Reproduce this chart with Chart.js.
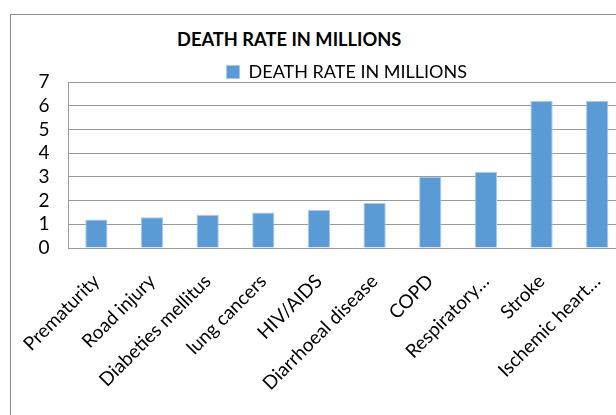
<!DOCTYPE html>
<html>
<head>
<meta charset="utf-8">
<script src="https://cdn.jsdelivr.net/npm/chart.js@4/dist/chart.umd.min.js"></script>
<style>
  html, body { margin: 0; padding: 0; background: #fff; }
  body { width: 616px; height: 415px; overflow: hidden; position: relative; font-family: Lato, "Noto Sans", sans-serif; }
  #frame { position: absolute; left: 10px; top: 14px; width: 700px; height: 500px; border-left: 1px solid #8c8c8c; border-top: 1px solid #8c8c8c; }
  #title { position: absolute; left: 177px; top: 30px; font-size: 18.3px; font-weight: bold; line-height: 1; color: #000; white-space: nowrap; }
  #wrap { position: absolute; left: 10px; top: 14px; }
</style>
</head>
<body>
<div id="frame"></div>
<div id="title">DEATH RATE IN MILLIONS</div>
<div id="wrap"><canvas id="chart" width="640" height="420"></canvas></div>
<script>
// causes of death, in millions
const causes = ['Prematurity', 'Road injury', 'Diabeties mellitus', 'lung cancers', 'HIV/AIDS',
  'Diarrhoeal disease', 'COPD', 'Respiratory…', 'Stroke', 'Ischemic heart…'];
const deaths = [1.2, 1.3, 1.4, 1.5, 1.6, 1.9, 3.0, 3.2, 6.2, 6.2];
const yTicks = [0, 1, 2, 3, 4, 5, 6, 7];

const seriesName = 'DEATH RATE IN MILLIONS';
const labelFont = {family: 'Lato', size: 19};
const gridGray = '#9a9a9a';

// the legend box reserves 10px below its row; push the row down so it sits
// just above the plot instead of leaving that gap under it
const legendNudge = {
  id: 'legendNudge',
  afterLayout(chart) {
    const lg = chart.legend;
    if (lg) { lg.top += 9; lg.bottom += 9; }
  }
};

const chart = new Chart(document.getElementById('chart'), {
  type: 'bar',
  data: {
    labels: causes,
    datasets: [{
      label: seriesName,
      data: deaths,
      backgroundColor: '#5b9bd5',
      borderColor: '#a9c9ea',
      borderWidth: 1,
      categoryPercentage: 1,
      barPercentage: 0.4
    }]
  },
  options: {
    responsive: false,
    animation: false,
    events: [],
    layout: {padding: {top: 40, left: 0, right: 25, bottom: 0}},
    plugins: {
      title: {display: false},
      tooltip: {enabled: false},
      legend: {
        position: 'top',
        fullSize: false,
        labels: {boxWidth: 13, boxHeight: 13, padding: 0, font: {family: 'Lato', size: 18}, color: '#000'}
      }
    },
    scales: {
      x: {
        grid: {display: false},
        border: {display: true, color: gridGray, width: 1},
        ticks: {font: labelFont, color: '#000', autoSkip: false, minRotation: 45, maxRotation: 45, padding: 14},
        afterFit: scale => { scale.height = 186; }
      },
      y: {
        min: 0,
        max: yTicks[yTicks.length - 1],
        afterBuildTicks: scale => { scale.ticks = yTicks.map(v => ({value: v})); },
        grid: {color: gridGray, lineWidth: 1, drawTicks: false},
        border: {display: true, color: gridGray, width: 1},
        ticks: {font: labelFont, color: '#000', padding: 19, autoSkip: false},
        afterFit: scale => { scale.width = 58; }
      }
    }
  },
  plugins: [legendNudge]
});
</script>
</body>
</html>
